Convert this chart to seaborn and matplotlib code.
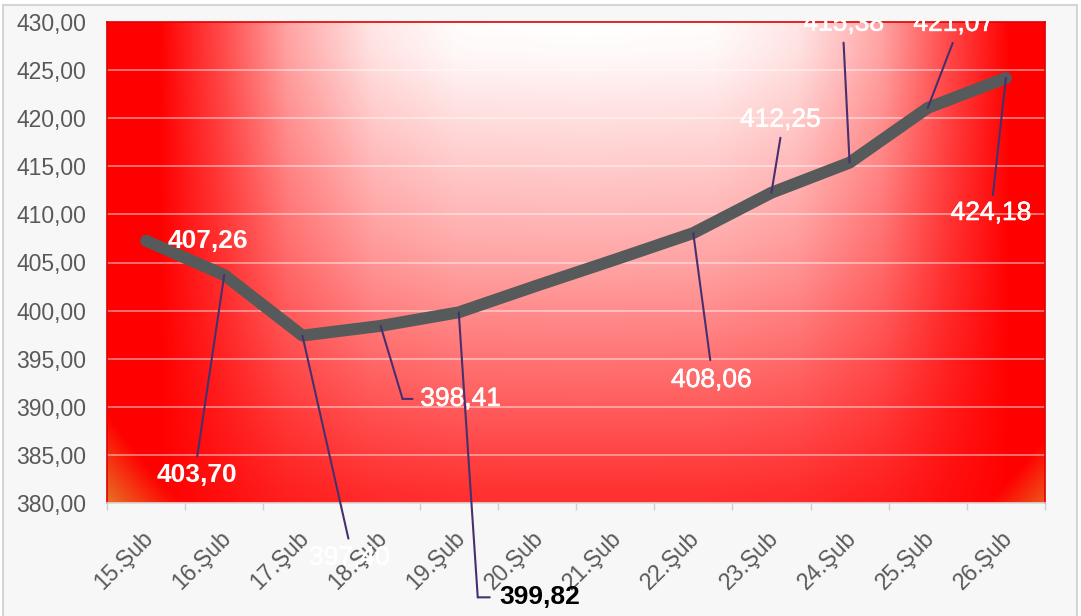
import numpy as np
import pandas as pd
import matplotlib
matplotlib.use('Agg')
import matplotlib.pyplot as plt
import matplotlib.transforms as mtransforms
import matplotlib.patheffects as pe
from matplotlib.patches import Rectangle
import seaborn as sns

# veriler
tarihler = ['15.Şub', '16.Şub', '17.Şub', '18.Şub', '19.Şub', '20.Şub',
            '21.Şub', '22.Şub', '23.Şub', '24.Şub', '25.Şub', '26.Şub']
degerler = [407.26, 403.70, 397.40, 398.41, 399.82, 402.60,
            405.30, 408.06, 412.25, 415.38, 421.07, 424.18]
# etiketi olan noktalar (20 ve 21 Şubat etiketsiz)
etiketli = [0, 1, 2, 3, 4, 7, 8, 9, 10, 11]
y_ticks = [380, 385, 390, 395, 400, 405, 410, 415, 420, 425, 430]

df = pd.DataFrame({'tarih': tarihler, 'deger': degerler})

sns.set_style('white')
plt.rcParams['font.family'] = ['Liberation Sans', 'DejaVu Sans']

fig = plt.figure(figsize=(10.81, 6.16), dpi=100, facecolor='white')
fig.patches.append(Rectangle((3 / 1081, -0.02), 1074 / 1081, 1 - 5 / 616 + 0.02,
                             transform=fig.transFigure, facecolor='#f7f7f7',
                             edgecolor='#d4d4d4', lw=1.5, zorder=0))
ax = fig.add_axes([107 / 1081, 1 - 503 / 616, 938 / 1081, 481 / 616])
ax.set_zorder(2)

# arka plan: üst ortada beyaz, kenarlarda kırmızı, alt köşelerde turuncu
# (satır 0 = üst kenar)
gx, gy = np.meshgrid(np.linspace(0, 938, 470), np.linspace(0, 481, 240))
u = np.abs(gx - 478) / 426.0
v = np.clip(gy - 3, 0, None) / 465.0
yatay = np.interp(u, [0, 0.30, 0.50, 0.70, 0.85, 1.0], [0, 0.01, 0.10, 0.36, 0.70, 1.0])
dikey = np.interp(v, [0, 0.06, 0.53, 1.0, 1.1], [0, 0.02, 0.37, 0.80, 0.85])
kirmizi = 1 - (1 - yatay) * (1 - dikey)
turuncu = np.clip((np.sqrt(u ** 2 + v ** 2) - 1.40) / 0.12, 0, 1)
beyaz = np.array([1.0, 1.0, 1.0])
kr = np.array([1.0, 0.0, 0.0])
tr = np.array([232, 110, 36]) / 255.0
img = beyaz + kirmizi[..., None] * (kr - beyaz)
img = img + turuncu[..., None] * (tr - img)
ax.imshow(img, extent=(0, 1, 0, 1), transform=ax.transAxes, origin='upper',
          aspect='auto', zorder=0, interpolation='bilinear')

for yt in y_ticks[1:-1]:
    ax.axhline(yt, color='white', alpha=0.5, lw=1.2, zorder=1)

sns.lineplot(data=df, x='tarih', y='deger', sort=False, color='#575a5a',
             lw=8.6, ax=ax, zorder=3, solid_capstyle='round', solid_joinstyle='round')

ax.set_xlim(-0.5, len(tarihler) - 0.5)
ax.set_ylim(380, 430)
ax.set_yticks(y_ticks)
ax.set_yticklabels([f'{v:.2f}'.replace('.', ',') for v in y_ticks])
ax.set_xticks(range(len(tarihler)))
ax.set_xticklabels(tarihler, rotation=45, ha='right', va='top', rotation_mode='anchor')
ax.set_xticks(np.arange(-0.5, len(tarihler)), minor=True)
ax.tick_params(axis='y', length=0, pad=15, labelsize=16.5, labelcolor='#595959')
ax.tick_params(axis='x', which='major', length=0, pad=17, labelsize=16.5, labelcolor='#595959')
ax.tick_params(axis='x', which='minor', length=5, width=1, color='#d0d0d0', bottom=True)
for lab in ax.get_xticklabels():
    lab.set_transform(lab.get_transform() + mtransforms.ScaledTranslation(-0.05, 0, fig.dpi_scale_trans))
ax.set_xlabel('')
ax.set_ylabel('')
ax.grid(False)
for s in ['left', 'top', 'right']:
    ax.spines[s].set_color('#e00000')
    ax.spines[s].set_linewidth(1.2)
ax.spines['bottom'].set_color('#d9d9d9')
ax.spines['bottom'].set_linewidth(1.2)
for s in ax.spines.values():
    s.set_zorder(4)

# etiket konumları (piksel ofseti, aşağı pozitif) ve bağlantı çizgileri
metin_ofset = {0: (62, 0), 1: (-27, 200), 2: (47, 222), 3: (80, 73), 4: (81, 285),
               7: (18, 147), 8: (9, -73), 9: (-6, -139), 10: (26, -84), 11: (-15, 135)}
cizgi_ofset = {1: [(-27, 181)], 2: [(46, 203)], 3: [(22, 73), (32, 73)],
               4: [(19, 285), (31, 285)], 7: [(17, 127)], 8: [(9, -55)],
               9: [(-6, -120)], 10: [(25, -65)], 11: [(-13, 117)]}
kalin = [0, 1, 4]
kirpma = mtransforms.Bbox([[0, 0], [1081, 596]])

for i in etiketli:
    v = degerler[i]
    if i in cizgi_ofset:
        noktalar = [(0, 0)] + cizgi_ofset[i]
        for (ax0, ay0), (ax1, ay1) in zip(noktalar[:-1], noktalar[1:]):
            ax.annotate('', xy=(i, v),
                        xycoords=mtransforms.offset_copy(ax.transData, fig=fig, x=ax0, y=-ay0, units='dots'),
                        xytext=(i, v),
                        textcoords=mtransforms.offset_copy(ax.transData, fig=fig, x=ax1, y=-ay1, units='dots'),
                        arrowprops=dict(arrowstyle='-', color='#47306e', lw=1.5,
                                        shrinkA=0, shrinkB=0),
                        annotation_clip=False, zorder=5)
    dx, dy = metin_ofset[i]
    renk = 'black' if i == 4 else 'white'
    t = ax.annotate(f'{v:.2f}'.replace('.', ','), xy=(i, v), xytext=(dx, -dy),
                    textcoords='offset pixels', ha='center', va='center',
                    fontsize=19, color=renk,
                    fontweight='bold' if i in kalin else 'normal',
                    annotation_clip=False, zorder=6)
    if i not in kalin:
        t.set_path_effects([pe.withStroke(linewidth=0.4, foreground=renk)])
    t.set_clip_on(True)
    t.set_clip_box(kirpma)

fig.savefig('out.png', dpi=100, facecolor=fig.get_facecolor())
